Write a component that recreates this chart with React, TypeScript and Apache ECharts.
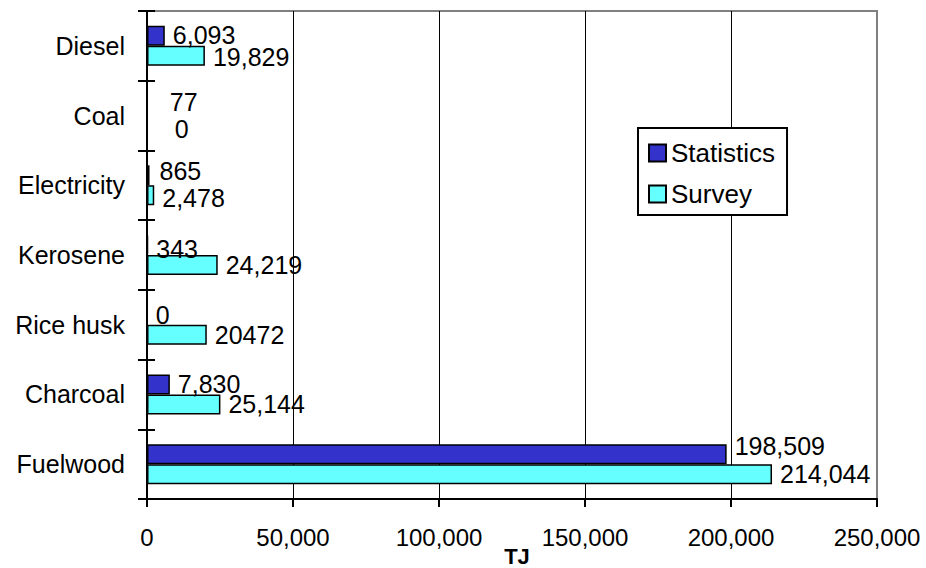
import { useEffect, useRef } from "react";
import * as echarts from "echarts";

// Household energy consumption by fuel, in TJ
const categories = ["Fuelwood", "Charcoal", "Rice husk", "Kerosene", "Electricity", "Coal", "Diesel"];
const statistics = [198509, 7830, 0, 343, 865, 77, 6093];
const survey = [214044, 25144, 20472, 24219, 2478, 0, 19829];
const surveyLabelText = ["214,044", "25,144", "20472", "24,219", "2,478", "0", "19,829"];
const xTicks = [0, 50000, 100000, 150000, 200000, 250000];
const unitTitle = "TJ";

const FONT = "'Liberation Sans', Arial, Helvetica, sans-serif";
const fmt = (v: number) => Number(v).toLocaleString("en-US");

// small nudges for crowded value labels
const statLabelOffset: Record<string, [number, number]> = {
  Fuelwood: [0, -8],
  Coal: [14, -4],
  Kerosene: [0, 4],
  Electricity: [2, -4],
  Diesel: [0, -1],
};
const surveyLabelOffset: Record<string, [number, number]> = {
  Coal: [19, 3],
  Electricity: [0, 3],
  Diesel: [0, 1],
};

const withOffsets = (values: number[], offsets: Record<string, [number, number]>) =>
  values.map((v, i) =>
    offsets[categories[i]] ? { value: v, label: { offset: offsets[categories[i]] } } : v
  );

export default function App() {
  const ref = useRef<HTMLDivElement>(null);

  useEffect(() => {
    if (!ref.current) return;
    const chart = echarts.init(ref.current, undefined, { renderer: "svg" });

    const valueLabel = {
      show: true,
      position: "right",
      distance: 8,
      fontSize: 25,
      color: "#000",
      fontFamily: FONT,
    };

    const gridLeft = 147;
    const gridRight = 49;
    const width = 926;

    const option: any = {
      animation: false,
      backgroundColor: "#ffffff",
      textStyle: { fontFamily: FONT, color: "#000" },
      grid: {
        left: gridLeft,
        right: gridRight,
        top: 11,
        bottom: 69,
        show: true,
        borderColor: "#808080",
        borderWidth: 2,
        backgroundColor: "transparent",
        outerBoundsMode: "none",
      },
      graphic: [
        {
          type: "text",
          x: (gridLeft + (width - gridRight)) / 2 + 5,
          y: 545,
          style: {
            text: unitTitle,
            fontFamily: FONT,
            fontSize: 22,
            fontWeight: "bold",
            fill: "#000",
            align: "center",
            verticalAlign: "top",
          },
        },
      ],
      legend: {
        data: ["Statistics", "Survey"],
        orient: "vertical",
        left: 638,
        top: 128,
        itemWidth: 17,
        itemHeight: 17,
        itemGap: 15,
        padding: [12, 12, 8, 10],
        borderColor: "#000",
        borderWidth: 2,
        backgroundColor: "#fff",
        icon: "rect",
        textStyle: { fontSize: 26, lineHeight: 26, color: "#000", fontFamily: FONT },
      },
      xAxis: {
        type: "value",
        min: xTicks[0],
        max: xTicks[xTicks.length - 1],
        interval: xTicks[1] - xTicks[0],
        axisLine: { show: true, lineStyle: { color: "#000", width: 2 } },
        axisTick: { show: true, length: 8, lineStyle: { color: "#000", width: 2 } },
        axisLabel: { fontSize: 24, color: "#000", margin: 26, formatter: (v: number) => fmt(v), fontFamily: FONT },
        splitLine: { show: true, showMinLine: false, showMaxLine: false, lineStyle: { color: "#000", width: 1 } },
      },
      yAxis: [
        {
          type: "category",
          data: categories,
          position: "left",
          axisLine: { show: true, lineStyle: { color: "#000", width: 2 } },
          axisTick: { show: true, length: 9, lineStyle: { color: "#000", width: 2 } },
          axisLabel: { fontSize: 25, color: "#000", margin: 22, fontFamily: FONT },
          splitLine: { show: false },
        },
        {
          // inner half of the crossing tick marks
          type: "category",
          data: categories,
          position: "left",
          axisLine: { show: false },
          axisTick: { show: true, inside: true, length: 8, lineStyle: { color: "#000", width: 2 } },
          axisLabel: { show: false },
          splitLine: { show: false },
        },
      ],
      series: [
        {
          name: "Statistics",
          type: "bar",
          yAxisIndex: 0,
          barWidth: 20,
          barGap: "0%",
          itemStyle: { color: "#3333CC", borderColor: "#000", borderWidth: 1.5 },
          label: { ...valueLabel, formatter: (p: any) => fmt(p.value) },
          data: withOffsets(statistics, statLabelOffset),
        },
        {
          name: "Survey",
          type: "bar",
          yAxisIndex: 0,
          barWidth: 20,
          barGap: "0%",
          itemStyle: { color: "#66FFFF", borderColor: "#000", borderWidth: 1.5 },
          label: { ...valueLabel, formatter: (p: any) => surveyLabelText[p.dataIndex] },
          data: withOffsets(survey, surveyLabelOffset),
        },
      ],
    };

    chart.setOption(option);
    return () => chart.dispose();
  }, []);

  return (
    <div
      ref={ref}
      style={{ position: "absolute", left: 0, top: 0, width: 926, height: 568, background: "#fff" }}
    />
  );
}
